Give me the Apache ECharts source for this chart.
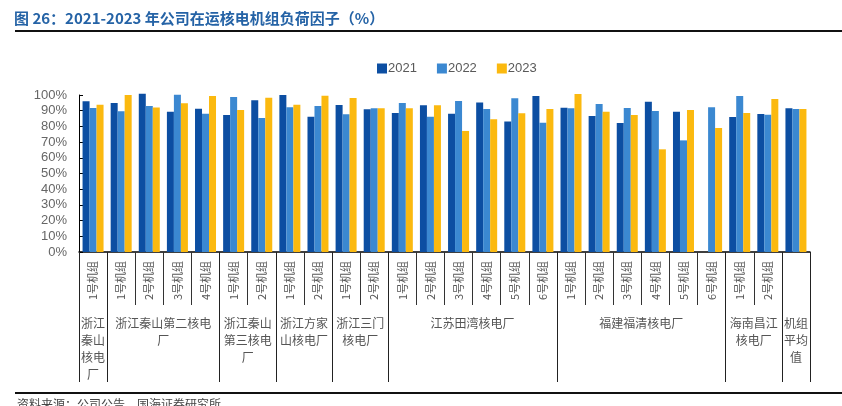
<!DOCTYPE html>
<html>
<head>
<meta charset="utf-8">
<script src="https://cdn.jsdelivr.net/npm/echarts@6/dist/echarts.min.js"></script>
<style>html,body{margin:0;padding:0;background:#fff;}#c{width:842px;height:406px;}</style>
</head>
<body>
<div id="c"></div>
<script>
const units = ['1号机组',
  '1号机组','2号机组','3号机组','4号机组',
  '1号机组','2号机组',
  '1号机组','2号机组',
  '1号机组','2号机组',
  '1号机组','2号机组','3号机组','4号机组','5号机组','6号机组',
  '1号机组','2号机组','3号机组','4号机组','5号机组','6号机组',
  '1号机组','2号机组',
  ''];
const groupNames = ['浙江\n秦山\n核电\n厂', '浙江秦山第二核电\n厂', '浙江秦山\n第三核电\n厂', '浙江方家\n山核电厂', '浙江三门\n核电厂', '江苏田湾核电厂', '福建福清核电厂', '海南昌江\n核电厂', '机组\n平均\n值'];
const groupSizes = [1, 4, 2, 2, 2, 6, 6, 2, 1];
const yTicks = [0, 10, 20, 30, 40, 50, 60, 70, 80, 90, 100];
const s2021 = [96.0, 94.9, 100.8, 89.4, 91.3, 87.3, 96.6, 100.0, 86.2, 93.6, 90.9, 88.5, 93.4, 88.1, 95.3, 83.2, 99.4, 91.9, 86.6, 82.2, 95.7, 89.4, null, 86.0, 87.9, 91.5];
const s2022 = [91.7, 89.6, 93.0, 100.2, 88.1, 98.7, 85.4, 92.2, 93.0, 87.7, 91.5, 94.9, 86.2, 96.2, 91.1, 97.9, 82.4, 91.5, 94.3, 91.7, 89.8, 71.1, 92.2, 99.4, 87.5, 91.1];
const s2023 = [93.8, 100.0, 92.1, 94.7, 99.4, 90.4, 98.3, 93.8, 99.6, 98.1, 91.5, 91.5, 93.4, 77.1, 84.5, 88.3, 91.1, 100.6, 89.4, 87.3, 65.4, 90.4, 79.0, 88.5, 97.5, 91.1];

// half-unit positions for the group axis
const boundaries = new Set();
const centerName = {};
let pos = 0;
boundaries.add(0);
groupSizes.forEach((n, i) => {
  centerName[pos + n] = groupNames[i];
  pos += 2 * n;
  boundaries.add(pos);
});
const halfPts = [];
for (let k = 0; k <= pos; k++) halfPts.push('p' + k);

const cjk = '"Noto Sans CJK SC", sans-serif';
const chart = echarts.init(document.getElementById('c'));
chart.setOption({
  animation: false,
  title: {
    text: '图 26：2021-2023 年公司在运核电机组负荷因子（%）',
    left: 9, top: 6,
    textStyle: { color: '#2563a6', fontSize: 15, fontWeight: 'bold', fontFamily: cjk }
  },
  legend: {
    data: ['2021', '2022', '2023'],
    left: 372, top: 57,
    icon: 'rect', itemWidth: 10, itemHeight: 10, itemGap: 20,
    textStyle: { color: '#595959', fontSize: 13, fontFamily: 'Liberation Sans, Arial, sans-serif', padding: [0, 0, 0, -4] }
  },
  grid: { left: 79, right: 32, top: 95, bottom: 154, containLabel: false },
  xAxis: [
    {
      type: 'category', position: 'bottom', data: units,
      axisLine: { lineStyle: { color: '#000', width: 1.5 } },
      axisTick: { show: true, interval: 0, length: 53, lineStyle: { color: '#333' } },
      axisLabel: { interval: 0, rotate: 90, margin: 9, fontSize: 11, color: '#555', fontFamily: cjk }
    },
    {
      type: 'category', position: 'bottom', boundaryGap: false, data: halfPts,
      axisLine: { show: false },
      axisTick: { show: true, interval: (i) => boundaries.has(i), length: 130, lineStyle: { color: '#222' } },
      axisLabel: {
        interval: (i) => centerName[i] !== undefined,
        formatter: (v, i) => centerName[i] || '',
        margin: 63, fontSize: 12, lineHeight: 17, color: '#555', fontFamily: cjk, align: 'center'
      }
    }
  ],
  yAxis: {
    type: 'value', min: 0, max: 100, interval: 10,
    splitLine: { show: false },
    axisLine: { show: true, lineStyle: { color: '#000' } },
    axisTick: { show: true, inside: true, length: 4, lineStyle: { color: '#000' } },
    axisLabel: { formatter: '{value}%', color: '#666', fontSize: 13, margin: 12, fontFamily: 'Liberation Sans, Arial, sans-serif' }
  },
  series: [
    { name: '2021', type: 'bar', data: s2021, barWidth: 7, barGap: '0%', clip: false, itemStyle: { color: '#0c4ea2' } },
    { name: '2022', type: 'bar', data: s2022, barWidth: 7, barGap: '0%', clip: false, itemStyle: { color: '#3b88d1' } },
    { name: '2023', type: 'bar', data: s2023, barWidth: 7, barGap: '0%', clip: false, itemStyle: { color: '#fbb90f' } }
  ],
  graphic: [
    { type: 'line', shape: { x1: 15, y1: 31, x2: 842, y2: 31 }, style: { stroke: '#111', lineWidth: 2 } },
    { type: 'line', shape: { x1: 15, y1: 393, x2: 842, y2: 393 }, style: { stroke: '#111', lineWidth: 2 } },
    { type: 'text', left: 17, top: 398, style: { text: '资料来源：公司公告，国海证券研究所', fill: '#444', font: '12px "Noto Sans CJK SC", sans-serif' } }
  ]
});
</script>
</body>
</html>
